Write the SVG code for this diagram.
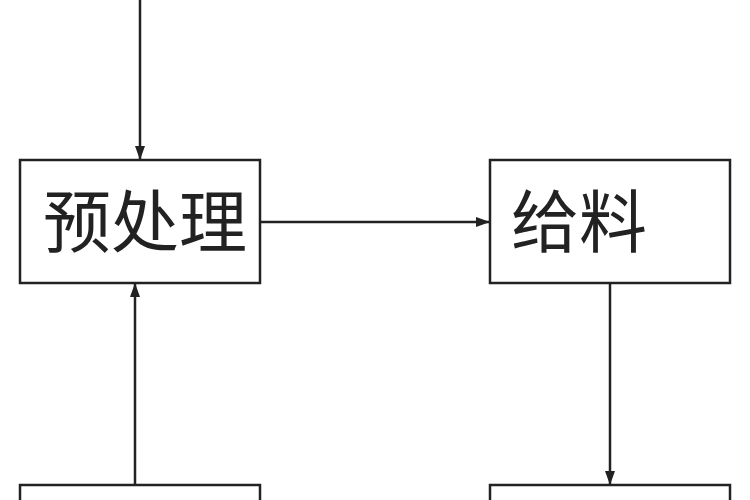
<svg xmlns="http://www.w3.org/2000/svg" width="750" height="500" viewBox="0 0 750 500">
<defs>
<style>
.box{fill:#fff;stroke:#222;stroke-width:2.5}
.ln{stroke:#222;stroke-width:2.5;fill:none}
.t{font-family:"Noto Sans CJK SC",sans-serif;font-size:68px;fill:#222}
</style>
<marker id="a" markerWidth="14" markerHeight="10" refX="14" refY="5" orient="auto" markerUnits="userSpaceOnUse"><path d="M0,0 L14,5 L0,10 z" fill="#222"/></marker>
</defs>
<rect width="750" height="500" fill="#fff"/>
<g id="connectors">
<line class="ln" x1="140" y1="0" x2="140" y2="160" marker-end="url(#a)"/>
<line class="ln" x1="260" y1="222" x2="490" y2="222" marker-end="url(#a)"/>
<line class="ln" x1="610" y1="283" x2="610" y2="485" marker-end="url(#a)"/>
<line class="ln" x1="135" y1="485" x2="135" y2="283" marker-end="url(#a)"/>
</g>
<g id="n1"><rect class="box" x="20" y="160" width="240" height="123"/><text class="t" x="145" y="247" text-anchor="middle">预处理</text></g>
<g id="n2"><rect class="box" x="490" y="160" width="240" height="123"/><text class="t" x="579" y="247" text-anchor="middle">给料</text></g>
<g id="n3"><rect class="box" x="20" y="485" width="240" height="40"/></g>
<g id="n4"><rect class="box" x="490" y="485" width="240" height="40"/></g>
</svg>
